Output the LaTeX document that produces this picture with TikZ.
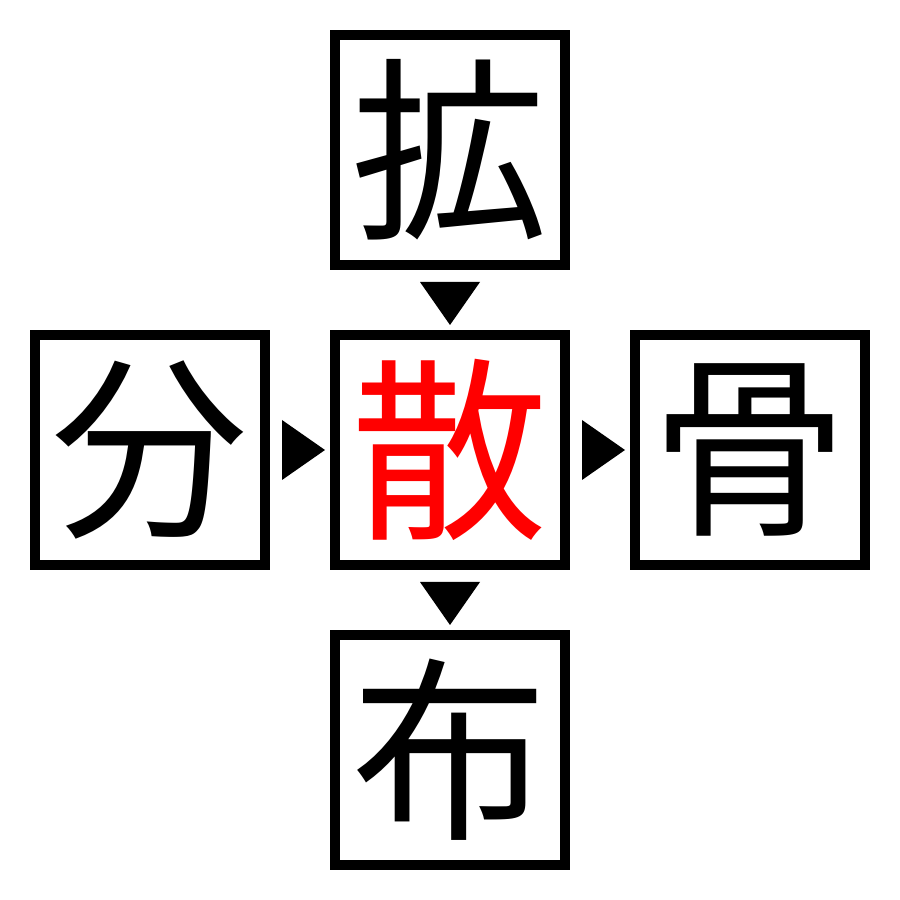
\documentclass[tikz,border=0pt]{standalone}
\usepackage{fontspec}
\newfontfamily\cjk{Noto Sans CJK JP}
\begin{document}
\begin{tikzpicture}[
        caixa/.style={shape=rectangle, draw=black, line width=1mm, minimum size=2.3cm,
            inner sep=0pt, font=\cjk\fontsize{56}{56}\selectfont},
        seta/.style={fill=black},
    ]
    \useasboundingbox (0,0) rectangle (9,9);
    \node[caixa] (t) at (4.5, 7.5) {拡};
    \node[caixa] (l) at (1.5, 4.5) {分};
    \node[caixa, text=red] (c) at (4.5, 4.5) {散};
    \node[caixa] (r) at (7.5, 4.5) {骨};
    \node[caixa] (b) at (4.5, 1.5) {布};

    \fill[seta] ([xshift=1.2mm]l.east) -- ++(0,3mm) -- ++(4.3mm,-3mm) -- ++(-4.3mm,-3mm) -- cycle;
    \fill[seta] ([xshift=1.2mm]c.east) -- ++(0,3mm) -- ++(4.3mm,-3mm) -- ++(-4.3mm,-3mm) -- cycle;
    \fill[seta] ([yshift=-1.2mm]t.south) -- ++(3mm,0) -- ++(-3mm,-4.3mm) -- ++(-3mm,4.3mm) -- cycle;
    \fill[seta] ([yshift=-1.2mm]c.south) -- ++(3mm,0) -- ++(-3mm,-4.3mm) -- ++(-3mm,4.3mm) -- cycle;
\end{tikzpicture}
\end{document}
